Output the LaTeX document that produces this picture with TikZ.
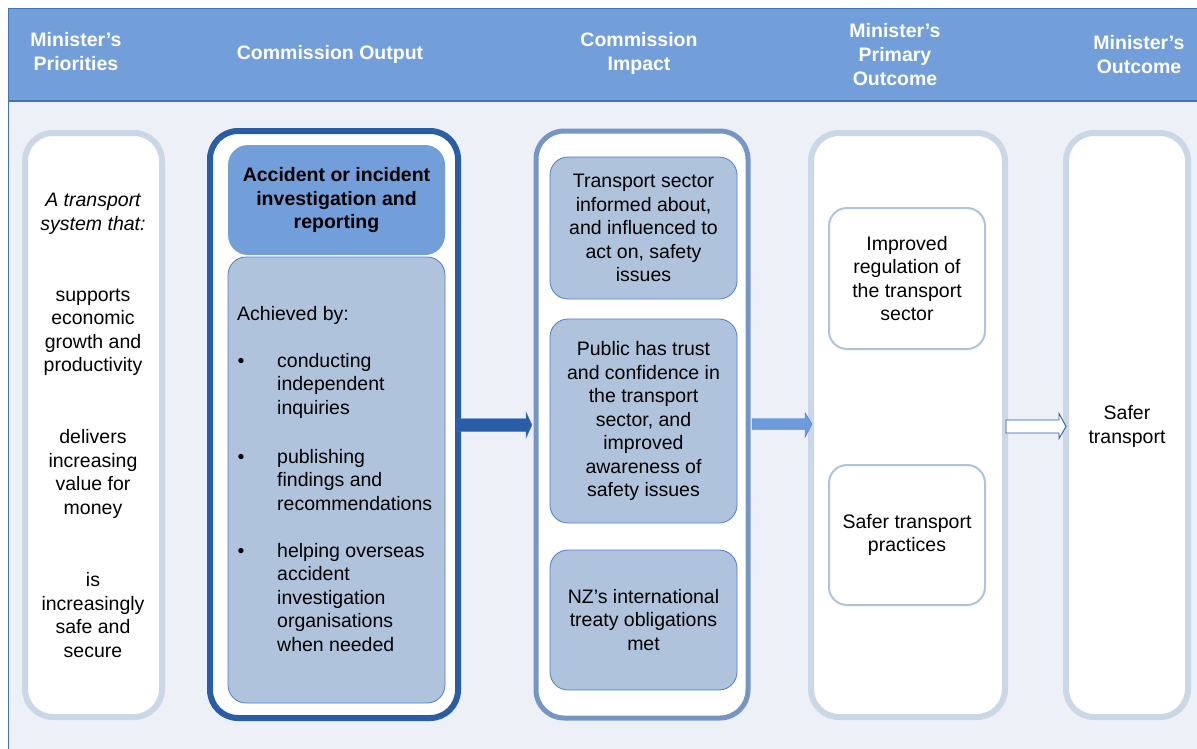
\documentclass[tikz,border=0pt]{standalone}
\usepackage{fontspec}
\setmainfont{Liberation Sans}
\usetikzlibrary{calc}
\definecolor{hdr}{RGB}{114,158,217}
\definecolor{bgc}{RGB}{237,240,246}
\definecolor{frame}{RGB}{68,114,186}
\definecolor{pale}{RGB}{203,215,230}
\definecolor{dblue}{RGB}{41,93,166}
\definecolor{mblue}{RGB}{117,150,196}
\definecolor{ifill}{RGB}{176,195,220}
\definecolor{iline}{RGB}{74,126,208}
\definecolor{arrb}{RGB}{107,155,219}
\tikzset{
  txt/.style={font=\fontsize{19.5}{23.5}\selectfont, align=center, inner sep=0pt},
  hd/.style={font=\fontsize{19.5}{24}\selectfont\bfseries, text=white, align=center, inner sep=0pt},
  col/.style={draw=pale, line width=6pt, fill=white, rounded corners=28pt, minimum width=#1, inner sep=0pt},
  ibox/.style={draw=iline, line width=0.8pt, fill=ifill, rounded corners=18pt, inner sep=0pt, txt},
  wbox/.style={draw=ifill, line width=2pt, fill=white, rounded corners=18pt, inner sep=0pt, txt},
}
\begin{document}
\begin{tikzpicture}[x=1pt,y=-1pt]
\useasboundingbox (0,0) rectangle (1197,748);
% frame
\fill[bgc] (8,8) rectangle (1200,752);
\fill[hdr] (8,8) rectangle (1200,101);
\draw[frame, line width=1pt] (8,752) -- (8,8) -- (1200,8);
\draw[frame, line width=1.2pt] (8,101) -- (1200,101);
% headers
\node[hd] (h1) at (76,52) {Minister’s\\Priorities};
\node[hd] (h2) at (330,54) {Commission Output};
\node[hd] (h3) at (639,53) {Commission\\Impact};
\node[hd] (h4) at (895,55) {Minister’s\\Primary\\Outcome};
\node[hd] (h5) at (1139,55) {Minister’s\\Outcome};
% column 1
\node[col=137pt, minimum height=584pt] (c1) at (93.5,425) {};
\node[txt, font=\fontsize{19.5}{23.5}\selectfont\itshape] (t1a) at (93,214) {A transport\\system that:};
\node[txt] (t1b) at (93,332) {supports\\economic\\growth and\\productivity};
\node[txt] (t1c) at (93,474) {delivers\\increasing\\value for\\money};
\node[txt] (t1d) at (93,615) {is\\increasingly\\safe and\\secure};
% column 2
\node[col=248pt, minimum height=587pt, draw=dblue] (c2) at (334,424.5) {};
\node[fill=hdr, rounded corners=20pt, minimum width=217pt, minimum height=110pt, inner sep=0pt,
      txt, font=\fontsize{19.5}{23.5}\selectfont\bfseries] (c2t) at (336.5,200) {Accident or incident\\investigation and\\reporting};
\node[ibox, minimum width=217pt, minimum height=446pt] (c2b) at (336.5,480) {};
\node[txt, anchor=west] (ach) at (237,315) {Achieved by:};
\node[txt] (b1) at (241,363) {•};
\node[txt] (b2) at (241,459) {•};
\node[txt] (b3) at (241,553) {•};
\node[txt, align=left, anchor=north west] (l1) at (277,353) {conducting\\independent\\inquiries};
\node[txt, align=left, anchor=north west] (l2) at (277,449) {publishing\\findings and\\recommendations};
\node[txt, align=left, anchor=north west] (l3) at (277,543) {helping overseas\\accident\\investigation\\organisations\\when needed};
% column 3
\node[col=212pt, minimum height=587pt, draw=mblue, line width=5pt] (c3) at (642,424.5) {};
\node[ibox, minimum width=187pt, minimum height=142pt] (i1) at (643.5,228) {Transport sector\\informed about,\\and influenced to\\act on, safety\\issues};
\node[ibox, minimum width=187pt, minimum height=204pt] (i2) at (643.5,421) {Public has trust\\and confidence in\\the transport\\sector, and\\improved\\awareness of\\safety issues};
\node[ibox, minimum width=187pt, minimum height=140pt] (i3) at (643.5,620) {NZ’s international\\treaty obligations\\met};
% column 4
\node[col=194pt, minimum height=584pt] (c4) at (908,425) {};
\node[wbox, minimum width=156pt, minimum height=141pt] (o1) at (907,278.5) {Improved\\regulation of\\the transport\\sector};
\node[wbox, minimum width=156pt, minimum height=140pt] (o2) at (907,535) {Safer transport\\practices};
% column 5
\node[col=122pt, minimum height=584pt] (c5) at (1127,425) {};
\node[txt] (t5) at (1127,426.5) {Safer\\transport};
% arrows
\coordinate (a1s) at (457,425);
\coordinate (a1e) at (532,425);
\fill[dblue, draw=iline, line width=0.4pt] (a1s) ++(0,-6.5) -- ($(a1e)+(-6,-6.5)$) -- ($(a1e)+(-6,-13)$) -- (a1e) -- ($(a1e)+(-6,13)$) -- ($(a1e)+(-6,6.5)$) -- ($(a1s)+(0,6.5)$) -- cycle;
\coordinate (a2s) at (752,424);
\coordinate (a2e) at (812,424);
\fill[arrb, draw=iline, line width=0.4pt] (a2s) ++(0,-5.5) -- ($(a2e)+(-7,-5.5)$) -- ($(a2e)+(-7,-11.5)$) -- (a2e) -- ($(a2e)+(-7,13.5)$) -- ($(a2e)+(-7,5.5)$) -- ($(a2s)+(0,5.5)$) -- cycle;
\coordinate (a3s) at (1006,426.5);
\coordinate (a3e) at (1066,426.5);
\draw[fill=white, draw=dblue, line width=0.9pt] (a3s) ++(0,-6.5) -- ($(a3e)+(-7,-6.5)$) -- ($(a3e)+(-7,-13)$) -- (a3e) -- ($(a3e)+(-7,12)$) -- ($(a3e)+(-7,6.5)$) -- ($(a3s)+(0,6.5)$) -- cycle;
\end{tikzpicture}
\end{document}
